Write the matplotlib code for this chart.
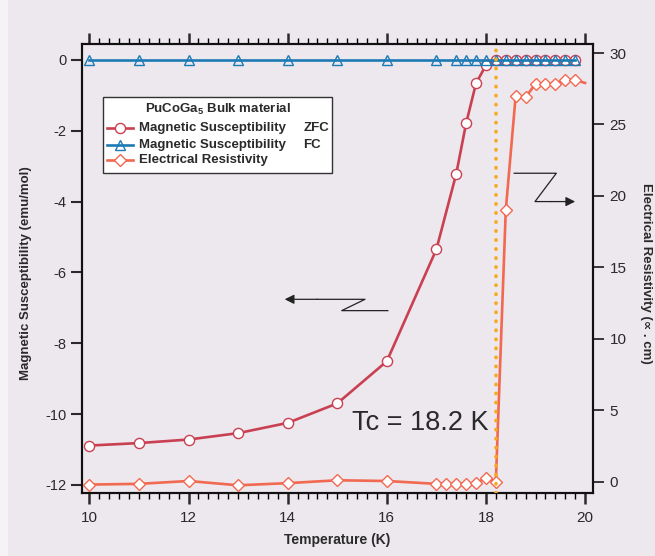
import matplotlib
matplotlib.use("Agg")
import matplotlib.pyplot as plt
from matplotlib.lines import Line2D
from matplotlib.patches import Rectangle
from matplotlib.ticker import MultipleLocator

plt.rcParams['font.family'] = ['Liberation Sans', 'DejaVu Sans']
plt.rcParams['mathtext.fontset'] = 'custom'
plt.rcParams['mathtext.rm'] = 'Liberation Sans'
plt.rcParams['mathtext.bf'] = 'Liberation Sans:bold'
plt.rcParams['axes.unicode_minus'] = False

# ---------------- data ----------------
T_mag = [10, 11, 12, 13, 14, 15, 16, 17, 17.4, 17.6, 17.8, 18.0,
         18.2, 18.4, 18.6, 18.8, 19.0, 19.2, 19.4, 19.6, 19.8]
chi_zfc = [-10.89, -10.82, -10.72, -10.54, -10.25, -9.70, -8.51, -5.35,
           -3.22, -1.79, -0.66, -0.15, 0, 0, 0, 0, 0, 0, 0, 0, 0]
chi_fc = [0.0] * len(T_mag)

T_res = [10, 11, 12, 13, 14, 15, 16, 17, 17.2, 17.4, 17.6, 17.8, 18.0,
         18.2, 18.4, 18.6, 18.8, 19.0, 19.2, 19.4, 19.6, 19.8, 20.0]
rho = [-0.21, -0.16, 0.04, -0.26, -0.11, 0.09, 0.04, -0.16, -0.16, -0.16,
       -0.14, -0.10, 0.24, 0.0, 19.0, 27.0, 26.9, 27.85, 27.8, 27.85,
       28.12, 28.12, 27.9]
Tc = 18.2

x_ticks = [10, 12, 14, 16, 18, 20]
y_left_ticks = [0, -2, -4, -6, -8, -10, -12]
y_right_ticks = [0, 5, 10, 15, 20, 25, 30]

# ---------------- style ----------------
BG = '#ede7ee'
C_ZFC = '#c94052'
C_FC = '#1c7ab4'
C_RES = '#f16950'
C_TC = '#f7a81b'
TXT = '#2a2a2a'

W, H = 655, 556
fig = plt.figure(figsize=(W / 100, H / 100), dpi=100, facecolor=BG)

def fx(px):
    return px / W

def fy(py):
    return 1 - py / H

# thin light strip on the left edge
fig.add_artist(Rectangle((0, 0), fx(8), 1, transform=fig.transFigure,
                         facecolor='#f6f3f6', edgecolor='none', zorder=-10))

ax = fig.add_axes([fx(82), fy(493), fx(593) - fx(82), fy(44) - fy(493)])
ax.set_facecolor(BG)
ax2 = ax.twinx()

ax.set_xlim(9.85, 20.16)
ax.set_ylim(-12.23, 0.45)
ax2.set_ylim(-0.8, 30.63)

# magnetic susceptibility
ax.plot(T_mag, chi_zfc, color=C_ZFC, lw=1.9, marker='o', ms=7.3,
        mfc='white', mec=C_ZFC, mew=1.0, zorder=3)
ax.plot(T_mag, chi_fc, color=C_FC, lw=1.9, marker='^', ms=7.5,
        mfc='none', mec=C_FC, mew=1.0, zorder=4)

# resistivity
ax2.plot(T_res, rho, color=C_RES, lw=1.9, marker='D', ms=6.6,
         mfc='white', mec=C_RES, mew=1.0, markevery=list(range(len(T_res) - 1)),
         zorder=3)
ax2.axvline(Tc, color=C_TC, lw=2.6, ls=(0, (0.1, 2.4)), dash_capstyle='round',
            zorder=5)

# ticks
ax.set_xticks(x_ticks)
ax.xaxis.set_minor_locator(MultipleLocator(0.2))
ax.set_yticks(y_left_ticks)
ax2.set_yticks(y_right_ticks)
ax.tick_params(axis='x', which='major', direction='out', length=8, width=1.8,
               top=True, labelsize=11, colors=TXT, pad=5)
ax.tick_params(axis='x', which='minor', direction='out', length=4, width=1.0,
               top=True)
ax.tick_params(axis='y', which='major', direction='out', length=8, width=1.5,
               labelsize=10.5, colors=TXT, pad=3)
ax2.tick_params(axis='y', which='major', direction='out', length=8, width=1.3,
                labelsize=11, colors=TXT, pad=4)
for a in (ax, ax2):
    for s in a.spines.values():
        s.set_linewidth(1.5)
        s.set_color('#111111')

ax.set_xlabel('Temperature (K)', fontsize=10, fontweight='bold', color=TXT)
ax.xaxis.set_label_coords(0.5, -0.089)
ax.set_ylabel('Magnetic Susceptibility (emu/mol)', fontsize=9.5,
              fontweight='bold', color=TXT)
ax.yaxis.set_label_coords(-0.097, 0.49)
ax2.set_ylabel('Electrical Resistivity (\u221d . cm)', fontsize=9.5,
               fontweight='bold', color=TXT, rotation=-90, va='center')
ax2.yaxis.set_label_coords(1.103, 0.49)

# Tc annotation
fig.text(fx(352), fy(429.5), 'Tc = 18.2 K', fontsize=19.5, color=TXT,
         ha='left', va='baseline')

# arrows (decorative)
def zigzag(pts, head):
    xs = [p[0] for p in pts]
    ys = [p[1] for p in pts]
    ax.add_line(Line2D(xs, ys, color='#222222', lw=0.9, zorder=6))
    ax.annotate('', xy=head, xytext=pts[-1],
                arrowprops=dict(arrowstyle='-|>', color='#222222', lw=0.9,
                                mutation_scale=14, shrinkA=0, shrinkB=0),
                zorder=6)

zigzag([(16.02, -7.08), (15.09, -7.08), (15.56, -6.76), (14.6, -6.76)],
       (13.94, -6.76))
zigzag([(18.57, -3.20), (19.42, -3.20), (18.99, -4.0), (19.3, -4.0)],
       (19.80, -4.0))

# legend (manual)
fig.add_artist(Rectangle((fx(103.3), fy(172.7)), fx(332.3) - fx(103.3),
                         fy(97.3) - fy(172.7), transform=fig.transFigure,
                         facecolor='white', edgecolor='#333333', lw=1.0,
                         zorder=20))
fig.text(fx(218), fy(109), 'PuCoGa$_\\mathbf{5}$ Bulk material', fontsize=9.5,
         fontweight='bold', color=TXT, ha='center', va='center', zorder=21)
rows = [(127.7, C_ZFC, 'o', 'white', 7.3, 'Magnetic Susceptibility', 'ZFC'),
        (145.0, C_FC, '^', 'none', 7.5, 'Magnetic Susceptibility', 'FC'),
        (160.3, C_RES, 'D', 'white', 6.6, 'Electrical Resistivity', '')]
for py, c, m, mfc, ms, lab, extra in rows:
    fig.add_artist(Line2D([fx(107), fx(133)], [fy(py), fy(py)],
                          transform=fig.transFigure, color=c, lw=1.9,
                          zorder=21))
    fig.add_artist(Line2D([fx(120)], [fy(py)], transform=fig.transFigure,
                          marker=m, ms=ms, mfc=mfc, mec=c, mew=1.0, ls='none',
                          zorder=22))
    fig.text(fx(139.3), fy(py), lab, fontsize=9.5, fontweight='bold',
             color=TXT, ha='left', va='center', zorder=22)
    if extra:
        fig.text(fx(303.3), fy(py), extra, fontsize=9.5, fontweight='bold',
                 color=TXT, ha='left', va='center', zorder=22)

fig.savefig('out.png', dpi=100, facecolor=BG)
